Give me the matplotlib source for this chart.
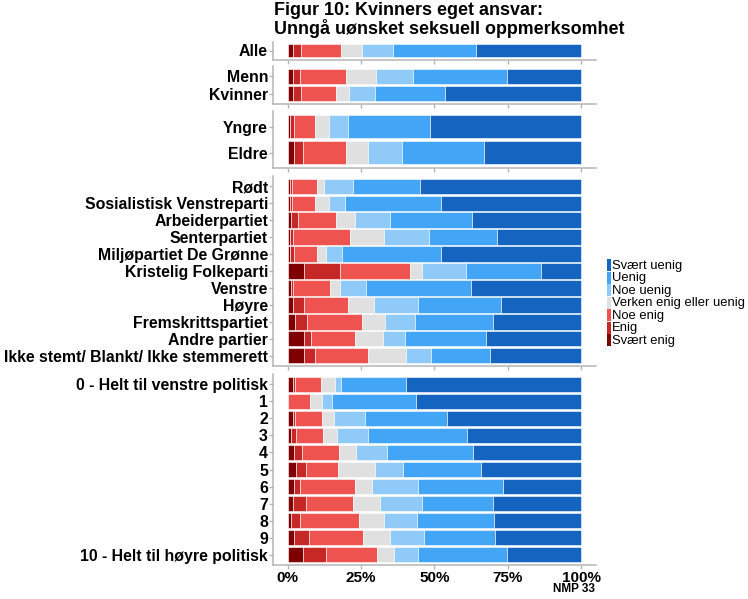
import matplotlib
matplotlib.use("Agg")
import matplotlib.pyplot as plt
from matplotlib.patches import Rectangle
import numpy as np

plt.rcParams['font.family'] = ['Liberation Sans', 'DejaVu Sans']

title = "Figur 10: Kvinners eget ansvar:\nUnngå uønsket seksuell oppmerksomhet"
source = "NMP 33"

responses = ["Svært enig", "Enig", "Noe enig", "Verken enig eller uenig",
             "Noe uenig", "Uenig", "Svært uenig"]
colors = ["#7f0000", "#c62828", "#ef5350", "#e0e0e0", "#90caf9", "#42a5f5", "#1565c0"]

groups = [
    ["Alle"],
    ["Menn", "Kvinner"],
    ["Yngre", "Eldre"],
    ["Rødt", "Sosialistisk Venstreparti", "Arbeiderpartiet", "Senterpartiet",
     "Miljøpartiet De Grønne", "Kristelig Folkeparti", "Venstre", "Høyre",
     "Fremskrittspartiet", "Andre partier", "Ikke stemt/ Blankt/ Ikke stemmerett"],
    ["0 - Helt til venstre politisk", "1", "2", "3", "4", "5", "6", "7", "8", "9",
     "10 - Helt til høyre politisk"],
]

svaert_enig = [1.9, 1.9, 1.9, 0.8, 2.2,
               0.8, 0.8, 1.1, 0.8, 0.8, 5.6, 1.1, 1.9, 2.5, 5.6, 5.6,
               1.7, 0.1, 1.7, 1.1, 2.3, 2.8, 2.3, 1.7, 1.1, 2.0, 5.3]
enig = [2.6, 2.3, 2.6, 1.4, 2.9,
        0.6, 0.6, 2.5, 1.1, 1.5, 12.3, 0.8, 3.8, 4.2, 2.2, 3.6,
        0.8, 0.1, 0.8, 1.7, 2.6, 3.3, 2.0, 4.7, 3.2, 5.1, 7.9]
noe_enig = [13.7, 15.8, 11.9, 7.1, 14.9,
            8.5, 8.0, 12.7, 19.4, 7.8, 23.7, 12.4, 15.0, 18.6, 15.3, 18.2,
            9.0, 7.4, 9.3, 9.4, 12.6, 11.1, 18.8, 16.0, 20.0, 18.4, 17.3]
verken = [7.1, 10.0, 4.5, 4.9, 7.5,
          2.4, 4.8, 6.6, 11.6, 2.9, 4.2, 3.6, 8.7, 7.9, 9.4, 12.9,
          4.7, 4.2, 4.1, 4.5, 5.8, 12.7, 5.7, 9.2, 8.5, 9.2, 5.7]
noe_uenig = [10.6, 12.7, 8.7, 6.3, 11.6,
             9.9, 5.3, 12.0, 15.3, 5.5, 15.0, 8.8, 15.0, 10.1, 7.5, 8.4,
             2.1, 3.2, 10.4, 10.7, 10.5, 9.5, 15.5, 14.0, 11.2, 11.7, 8.3]
uenig = [28.1, 31.9, 24.1, 28.0, 27.9,
         23.0, 32.9, 28.0, 23.0, 33.6, 25.5, 35.8, 28.3, 26.8, 27.7, 20.2,
         22.1, 28.6, 27.9, 33.8, 29.5, 26.4, 29.1, 24.4, 26.3, 24.1, 30.2]
svaert_uenig = [36.0, 25.4, 46.3, 51.5, 33.0,
                54.8, 47.6, 37.1, 28.8, 47.9, 13.7, 37.5, 27.3, 29.9, 32.3, 31.1,
                59.6, 56.4, 45.8, 38.8, 36.7, 34.2, 26.6, 30.0, 29.7, 29.5, 25.3]

xticks = [0, 25, 50, 75, 100]
xticklabels = ["0%", "25%", "50%", "75%", "100%"]

series = np.array([svaert_enig, enig, noe_enig, verken, noe_uenig, uenig, svaert_uenig])
series = series / series.sum(axis=0) * 100

W, H = 748, 599
fig = plt.figure(figsize=(W / 100, H / 100), dpi=100)

def fx(px):
    return px / W

def fy(py):
    return 1 - py / H

# panel pixel extents (top, bottom)
panel_px = [(41.5, 59.5), (66, 104), (111, 168.3), (176, 366), (374, 565)]
x_left, x_right = 273.0, 595.9
gray = "#b5b5b5"

row = 0
for gi, (cats, (top, bot)) in enumerate(zip(groups, panel_px)):
    n = len(cats)
    ax = fig.add_axes([fx(x_left), fy(bot), fx(x_right) - fx(x_left), (bot - top) / H])
    ypos = np.arange(n, 0, -1)
    left = np.zeros(n)
    bh = 0.85 if n == 1 else 0.9
    for k in range(len(responses)):
        vals = series[k, row:row + n]
        ax.barh(ypos, vals, left=left, height=bh, color=colors[k],
                edgecolor="white", linewidth=0.4)
        left = left + vals
    row += n
    ax.set_xlim(-5, 105)
    ax.set_ylim(0.4, n + 0.6)
    ax.set_yticks(ypos)
    ax.set_yticklabels(cats, fontsize=11.4, fontweight="bold", color="black")
    ax.set_xticks(xticks)
    if gi == len(groups) - 1:
        ax.set_xticklabels(xticklabels, fontsize=11, fontweight="bold", color="black")
    else:
        ax.set_xticklabels([])
    for s in ["top", "right"]:
        ax.spines[s].set_visible(False)
    for s in ["left", "bottom"]:
        ax.spines[s].set_color(gray)
        ax.spines[s].set_linewidth(1.1)
    ax.tick_params(axis="y", color=gray, length=3, width=1.0, pad=0.6)
    ax.tick_params(axis="x", color=gray, length=3, width=1.0, pad=1.0)
    ax.set_facecolor("white")

fig.text(fx(274), fy(2), title, ha="left", va="top", fontsize=12.9,
         fontweight="bold", linespacing=1.0)
fig.text(fx(595), fy(589.5), source, ha="right", va="center", fontsize=8.5,
         fontweight="bold")

# legend
ltop, lstep = 259.3, 12.5
for i, k in enumerate(range(len(responses) - 1, -1, -1)):
    y0 = ltop + i * lstep
    fig.patches.append(Rectangle((fx(606.5), fy(y0 + lstep - 0.5)), fx(4.5),
                                 (lstep - 0.5) / H, transform=fig.transFigure,
                                 facecolor=colors[k], edgecolor="none"))
    fig.text(fx(612), fy(y0 + lstep / 2), responses[k], ha="left", va="center",
             fontsize=9.4)

fig.savefig("out.png", dpi=100, facecolor="white")
